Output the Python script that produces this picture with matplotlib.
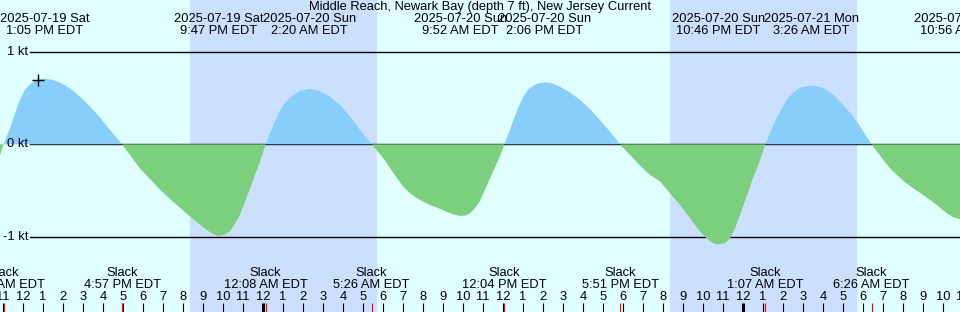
import numpy as np
import matplotlib
matplotlib.use("Agg")
import matplotlib.pyplot as plt
from matplotlib.transforms import blended_transform_factory

plt.rcParams['font.family'] = ['Liberation Sans', 'DejaVu Sans']

# hours relative to 2025-07-20 00:00 EDT
title = "Middle Reach, Newark Bay (depth 7 ft), New Jersey Current"
x_start, x_end = -13.15, 34.85

# current speed (kt, flood positive)
curve_t = [-13.15, -12.97, -12.65, -12.40, -12.15, -11.90, -11.65, -11.40, -11.15, -10.92,
           -10.49, -10.15, -9.65, -9.15, -8.65, -8.15, -7.65, -7.05,
           -6.15, -5.15, -4.65, -4.15, -3.65, -3.15, -2.90, -2.65, -2.40, -2.22,
           -1.90, -1.65, -1.40, -1.15, -0.90, -0.65, -0.40, -0.15, 0.13,
           0.35, 0.52, 0.77, 1.02, 1.27, 1.52, 1.85, 2.33, 2.85, 3.35, 3.85, 4.35, 4.85, 5.43,
           6.02, 6.52, 7.02, 7.35, 7.69, 8.02, 8.35, 8.77, 9.19, 9.52, 9.87, 10.10, 10.35,
           10.60, 10.85, 11.10, 11.35, 11.60, 11.85, 12.07,
           12.35, 12.52, 12.77, 13.02, 13.27, 13.52, 13.77, 14.10, 14.44, 14.85, 15.35,
           15.85, 16.35, 16.85, 17.35, 17.85,
           18.35, 18.85, 19.35, 19.85, 20.35, 20.85, 21.35, 21.85, 22.19, 22.52, 22.77,
           23.10, 23.35, 23.60, 23.85, 24.10, 24.35, 24.60, 24.85, 25.12,
           25.35, 25.52, 25.85, 26.19, 26.52, 26.85, 27.19, 27.43, 27.85, 28.19, 28.52,
           28.85, 29.19, 29.52, 29.77, 30.02, 30.43,
           30.77, 31.02, 31.35, 31.69, 32.10, 32.52, 32.94, 33.35, 33.77, 34.19, 34.52,
           34.85, 34.93]
curve_v = [-0.115, 0.0, 0.17, 0.335, 0.48, 0.59, 0.65, 0.685, 0.70, 0.71,
           0.695, 0.667, 0.605, 0.515, 0.41, 0.29, 0.155, 0.0,
           -0.26, -0.49, -0.59, -0.685, -0.78, -0.87, -0.91, -0.95, -0.98, -0.99,
           -0.975, -0.94, -0.86, -0.76, -0.62, -0.48, -0.33, -0.19, 0.0,
           0.12, 0.21, 0.335, 0.425, 0.49, 0.533, 0.577, 0.60, 0.575, 0.515, 0.425, 0.30, 0.155, 0.0,
           -0.15, -0.31, -0.46, -0.53, -0.58, -0.62, -0.656, -0.69, -0.73, -0.757, -0.775, -0.77, -0.746,
           -0.69, -0.61, -0.49, -0.37, -0.25, -0.13, 0.0,
           0.155, 0.26, 0.40, 0.515, 0.595, 0.634, 0.66, 0.67, 0.66, 0.623, 0.56,
           0.48, 0.38, 0.26, 0.137, 0.0,
           -0.115, -0.23, -0.33, -0.40, -0.53, -0.656, -0.80, -0.944, -1.02, -1.07, -1.08,
           -1.07, -1.016, -0.91, -0.764, -0.61, -0.458, -0.31, -0.17, 0.0,
           0.12, 0.21, 0.353, 0.48, 0.56, 0.61, 0.63, 0.634, 0.62, 0.587, 0.533,
           0.46, 0.38, 0.30, 0.22, 0.137, 0.0,
           -0.097, -0.17, -0.26, -0.33, -0.41, -0.476, -0.537, -0.60, -0.67, -0.746, -0.79,
           -0.807, -0.81]

# max flood / max ebb events (top labels)
max_t = [-10.92, -2.22, 2.33, 9.87, 14.10, 22.77, 27.43, 34.93]
max_dates = ["2025-07-19 Sat", "2025-07-19 Sat", "2025-07-20 Sun", "2025-07-20 Sun",
             "2025-07-20 Sun", "2025-07-20 Sun", "2025-07-21 Mon", "2025-07-21 Mon"]
max_times = ["1:05 PM EDT", "9:47 PM EDT", "2:20 AM EDT", "9:52 AM EDT",
             "2:06 PM EDT", "10:46 PM EDT", "3:26 AM EDT", "10:56 AM EDT"]

# slack events (bottom labels)
slack_t = [-12.97, -7.05, 0.13, 5.43, 12.07, 17.85, 25.12, 30.43]
slack_times = ["11:02 AM EDT", "4:57 PM EDT", "12:08 AM EDT", "5:26 AM EDT",
               "12:04 PM EDT", "5:51 PM EDT", "1:07 AM EDT", "6:26 AM EDT"]

# night (sunset -> sunrise)
night_start = [-3.65, 20.35]
night_end = [5.68, 29.68]

# "now" marker
mark_t, mark_v = [-11.25], [0.69]

kt_levels = [1, 0, -1]
kt_labels = ["1 kt", "0 kt", "-1 kt"]

day_col = '#e0ffff'
night_col = '#cbe0fe'
flood_col = '#87cefa'
ebb_col = '#7ccf7c'

W, H = 960, 312
fig = plt.figure(figsize=(W / 100, H / 100), dpi=100)
ax = fig.add_axes([0, 0, 1, 1])
ax.set_xlim(x_start, x_end)
ax.set_ylim((144.3 - H) / 92.5, 144.3 / 92.5)
ax.axis('off')
fig.patch.set_facecolor(day_col)
ax.set_facecolor(day_col)

fy = blended_transform_factory(ax.transData, ax.transAxes)  # x data, y axes frac


def frac(ypix):
    return 1 - ypix / H


for s, e in zip(night_start, night_end):
    ax.axvspan(s, e, color=night_col, lw=0, zorder=0)

# reference lines
x_line = x_start + 30 / 20
for lvl, lab in zip(kt_levels, kt_labels):
    ax.plot([x_line, x_end], [lvl, lvl], color='black', lw=1.0, zorder=1)
    ax.text(x_line - 0.1, lvl, lab, ha='right', va='center', fontsize=9.3, zorder=3)

t = np.array(curve_t)
v = np.array(curve_v)
ax.fill_between(t, 0, np.maximum(v, 0), color=flood_col, lw=0, zorder=2)
ax.fill_between(t, 0, np.minimum(v, 0), color=ebb_col, lw=0, zorder=2)

ax.plot(mark_t, mark_v, marker='+', color='black', ms=9, mew=1.0, ls='none', zorder=4)

# title and event labels
ax.text(0.5, frac(7), title, transform=ax.transAxes, ha='center', va='center', fontsize=9.3)
for tt, d, tm in zip(max_t, max_dates, max_times):
    ax.text(tt, frac(19.5), d, transform=fy, ha='center', va='center', fontsize=9.3)
    ax.text(tt, frac(31.5), tm, transform=fy, ha='center', va='center', fontsize=9.3)
for tt, tm in zip(slack_t, slack_times):
    ax.text(tt, frac(273.5), "Slack", transform=fy, ha='center', va='center', fontsize=9.3)
    ax.text(tt, frac(285.5), tm, transform=fy, ha='center', va='center', fontsize=9.3)

# hour ticks
hours = np.arange(int(np.ceil(x_start)), int(np.floor(x_end)) + 2)
for h in hours:
    lab = str(h % 12 if h % 12 else 12)
    ax.text(h, frac(297.5), lab, transform=fy, ha='center', va='center', fontsize=9.3)
    lw = 2.2 if h % 24 == 0 else 0.8
    ax.plot([h, h], [frac(303), 0], transform=fy, color='black', lw=lw, zorder=3,
            solid_capstyle='butt')
for tt in slack_t:
    ax.plot([tt, tt], [frac(303), 0], transform=fy, color='red', lw=0.8, zorder=4,
            solid_capstyle='butt')

fig.savefig('out.png', dpi=100, facecolor=day_col)
